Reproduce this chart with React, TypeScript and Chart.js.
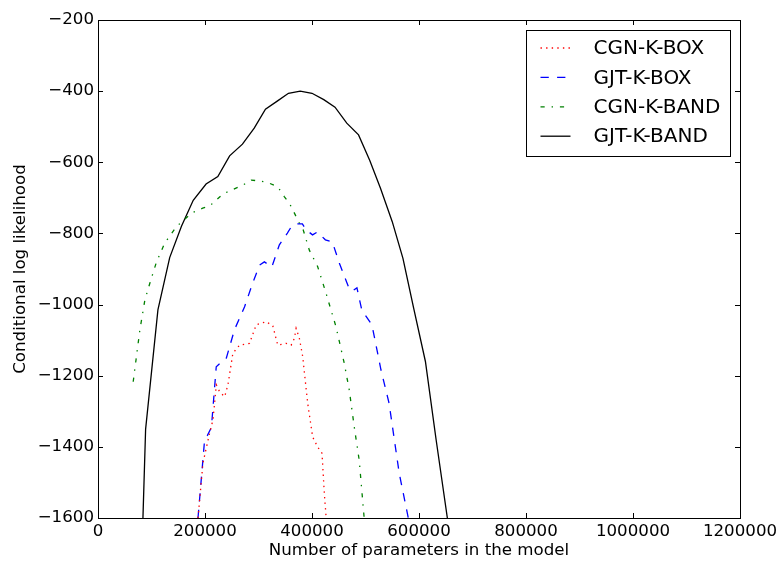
import React, { useEffect, useRef } from 'react';
import { Chart, registerables } from 'chart.js';

Chart.register(...registerables);

const FONT = 'DejaVu Sans';

const xTickValues = [0, 200000, 400000, 600000, 800000, 1000000, 1200000];
const yTickValues = [-1600, -1400, -1200, -1000, -800, -600, -400, -200];

const seriesLabels = ['CGN-K-BOX', 'GJT-K-BOX', 'CGN-K-BAND', 'GJT-K-BAND'];
const seriesColors = ['#ff0000', '#0000ff', '#008000', '#000000'];

const cgnBoxX = [186900, 196200, 208700, 214900, 221200, 227300, 236700, 242800, 252100, 264600, 283200, 295700, 314400, 326700, 336000, 351600, 361000, 367100, 370300, 376400, 382600, 391900, 401200, 410500, 418700, 423000, 426500];
const cgnBoxY = [-1600, -1445, -1361, -1324, -1226, -1245, -1259, -1226, -1137, -1114, -1109, -1057, -1048, -1060, -1114, -1109, -1114, -1095, -1067, -1095, -1146, -1277, -1372, -1400, -1418, -1530, -1600];

const gjtBoxX = [186900, 199000, 212000, 221000, 232000, 240000, 255000, 274000, 289000, 302000, 311000, 325000, 339000, 354000, 361000, 371000, 382000, 389000, 401000, 410000, 425000, 438000, 451000, 469000, 475000, 484000, 493000, 512000, 529000, 544000, 563000, 580000];
const gjtBoxY = [-1600, -1385, -1345, -1175, -1160, -1150, -1071, -1006, -940, -889, -880, -894, -832, -799, -782, -773, -773, -790, -804, -796, -818, -824, -883, -953, -962, -953, -1015, -1057, -1184, -1277, -1474, -1600];

const cgnBandX = [65800, 78300, 87600, 96900, 109400, 124800, 146600, 174600, 195700, 208700, 233500, 270800, 286400, 305000, 320500, 336000, 348500, 357800, 367100, 376400, 382600, 395000, 404400, 410500, 426200, 444800, 460300, 469600, 478900, 488200, 497500];
const cgnBandY = [-1217, -1071, -987, -940, -880, -827, -781, -743, -729, -723, -689, -664, -650, -653, -659, -669, -697, -715, -743, -771, -785, -847, -875, -893, -968, -1062, -1165, -1240, -1343, -1437, -1600];

const gjtBandX = [84000, 89000, 112000, 134000, 156000, 178000, 202000, 224000, 246000, 270000, 292000, 313000, 335000, 356000, 378000, 400000, 422000, 443000, 465000, 487000, 508000, 528000, 550000, 570000, 590000, 612000, 632000, 653000];
const gjtBandY = [-1600, -1350, -1015, -868, -780, -707, -661, -640, -582, -549, -504, -451, -428, -406, -400, -406, -424, -445, -490, -523, -595, -673, -767, -870, -1010, -1160, -1380, -1600];

const seriesX = [cgnBoxX, gjtBoxX, cgnBandX, gjtBandX];
const seriesY = [cgnBoxY, gjtBoxY, cgnBandY, gjtBandY];
const seriesDash: number[][] = [[1.4, 4.2], [8.3, 8.3], [4.2, 6.9, 1.4, 6.9], []];

const framePlugin = {
  id: 'frameAndTicks',
  afterDatasetsDraw(chart: any) {
    const ctx = chart.ctx;
    const { left, right, top, bottom } = chart.chartArea;
    const xs = chart.scales.x;
    const ys = chart.scales.y;
    const tl = 5;
    ctx.save();
    ctx.strokeStyle = '#000';
    ctx.lineWidth = 1;
    ctx.setLineDash([]);
    ctx.beginPath();
    for (const v of xTickValues) {
      const px = Math.round(xs.getPixelForValue(v)) + 0.5;
      ctx.moveTo(px, bottom);
      ctx.lineTo(px, bottom - tl);
      ctx.moveTo(px, top);
      ctx.lineTo(px, top + tl);
    }
    for (const v of yTickValues) {
      const py = Math.round(ys.getPixelForValue(v)) + 0.5;
      ctx.moveTo(left, py);
      ctx.lineTo(left + tl, py);
      ctx.moveTo(right, py);
      ctx.lineTo(right - tl, py);
    }
    ctx.stroke();
    ctx.strokeRect(Math.round(left) + 0.5, Math.round(top) + 0.5, Math.round(right - left), Math.round(bottom - top));

    // legend
    const bx = Math.round(right) - 214 + 0.5;
    const by = Math.round(top) + 10.5;
    const bw = 204;
    const bh = 126;
    ctx.fillStyle = '#fff';
    ctx.fillRect(bx, by, bw, bh);
    ctx.strokeRect(bx, by, bw, bh);
    ctx.font = `20px "${FONT}"`;
    ctx.textBaseline = 'middle';
    ctx.textAlign = 'left';
    for (let i = 0; i < seriesLabels.length; i++) {
      const cy = by + 17.5 + i * 29.4;
      ctx.strokeStyle = seriesColors[i];
      ctx.lineWidth = 1.3;
      ctx.setLineDash(seriesDash[i]);
      ctx.beginPath();
      ctx.moveTo(bx + 14, cy);
      ctx.lineTo(bx + 44, cy);
      ctx.stroke();
      ctx.setLineDash([]);
      ctx.fillStyle = '#000';
      ctx.fillText(seriesLabels[i], bx + 67, cy + 1);
    }
    ctx.restore();
  },
};

export default function App() {
  const canvasRef = useRef<HTMLCanvasElement | null>(null);

  useEffect(() => {
    const canvas = canvasRef.current;
    if (!canvas) return;
    const datasets = seriesLabels.map((label, i) => ({
      label,
      data: seriesX[i].map((x, j) => ({ x, y: seriesY[i][j] })),
      borderColor: seriesColors[i],
      backgroundColor: seriesColors[i],
      borderWidth: 1.3,
      borderDash: seriesDash[i],
      pointRadius: 0,
      fill: false,
      tension: 0,
    }));
    const tickFont = { family: FONT, size: 16.67 };
    const chart = new Chart(canvas, {
      type: 'line',
      data: { datasets },
      plugins: [framePlugin],
      options: {
        animation: false,
        responsive: false,
        devicePixelRatio: 1,
        layout: { padding: { left: 0, top: 20, right: 42, bottom: 0 } },
        plugins: {
          legend: { display: false },
          tooltip: { enabled: false },
        },
        scales: {
          x: {
            type: 'linear',
            min: 0,
            max: 1200000,
            afterFit: (s: any) => { s.height = 44; },
            afterBuildTicks: (s: any) => { s.ticks = xTickValues.map((v) => ({ value: v })); },
            ticks: {
              autoSkip: false,
              maxRotation: 0,
              padding: 4,
              color: '#000',
              font: tickFont,
              callback: (v: any) => String(v),
            },
            grid: { display: false, drawTicks: false },
            border: { display: false },
            title: {
              display: true,
              text: 'Number of parameters in the model',
              color: '#000',
              font: tickFont,
              padding: { top: 1, bottom: 1 },
            },
          },
          y: {
            type: 'linear',
            min: -1600,
            max: -200,
            afterFit: (s: any) => { s.width = 98; },
            afterBuildTicks: (s: any) => { s.ticks = yTickValues.map((v) => ({ value: v })); },
            ticks: {
              padding: 4,
              color: '#000',
              font: tickFont,
              callback: (v: any) => (v < 0 ? '\u2212' + Math.abs(v) : String(v)),
            },
            grid: { display: false, drawTicks: false },
            border: { display: false },
            title: {
              display: true,
              text: 'Conditional log likelihood',
              color: '#000',
              font: tickFont,
              padding: { top: 11, bottom: 11 },
            },
          },
        },
      },
    } as any);
    return () => chart.destroy();
  }, []);

  return (
    <div style={{ position: 'fixed', left: 0, top: 0, width: 782, height: 562, background: '#fff' }}>
      <canvas ref={canvasRef} width={782} height={562} style={{ width: 782, height: 562, display: 'block' }} />
    </div>
  );
}
